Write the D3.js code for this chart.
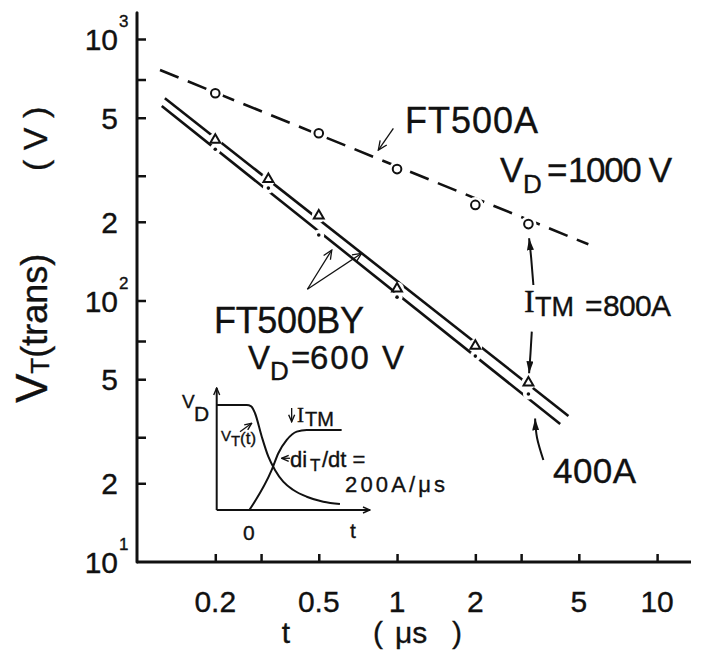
<!DOCTYPE html>
<html>
<head>
<meta charset="utf-8">
<script src="https://cdn.jsdelivr.net/npm/d3@7"></script>
<style>
  body { margin: 0; background: #fff; }
  svg { display: block; }
  text { font-family: "Liberation Sans", Arial, sans-serif; fill: #111; stroke: #111; stroke-width: 0.35px; }
  text.serif { font-family: "Liberation Serif", "Times New Roman", serif; }
</style>
</head>
<body>
<svg id="chart" width="701" height="665"></svg>
<script>
// Transient on-state voltage V_T(trans) after turn-on, log-log

// axis ticks
const xTicks = [0.2, 0.3, 0.5, 1, 2, 3, 5, 10];
const xTickLabels = ["0.2", "", "0.5", "1", "2", "", "5", "10"];
const yTicks = [1000, 700, 500, 300, 200, 100, 70, 50, 30, 20, 10];
const yTickLabels = [["10", "3"], null, ["5"], null, ["2"], ["10", "2"], null, ["5"], null, ["2"], ["10", "1"]];

// FT500A, VD = 1000 V, ITM = 800 A (open circles)
const tA = [0.2, 0.5, 1, 2, 3.2];
const vA = [620, 436, 318, 232, 196];
// FT500BY, VD = 600 V, ITM = 800 A (open triangles)
const tBY = [0.2, 0.32, 0.5, 1, 2, 3.2];
const vBY800 = [411, 291, 211, 111, 67, 48.5];
// FT500BY, VD = 600 V, ITM = 400 A (dots)
const vBY400 = [379, 269, 178, 103, 61.3, 43.9];

// straight-line fits, [t, V] end points
const fitA = [[0.1226, 761], [5.44, 164]];
const fit800 = [[0.128, 593], [4.56, 36.2]];
const fit400 = [[0.1245, 554], [4.24, 33.7]];

// annotation arrows, [t, V]
const arrowFT500A = [[0.968, 455], [0.847, 376]];
const arrowBY1 = [[0.452, 110.4], [0.561, 156]];
const arrowBY2 = [[0.452, 110.4], [0.731, 151.5]];
const arrowItmUp = [[3.344, 114.6], [3.28, 145], [3.219, 173]];
const arrowItmDown = [[3.297, 76], [3.26, 63], [3.219, 52.7]];
const arrow400 = [[3.653, 24.55], [3.455, 29.8], [3.395, 35.4]];

// inset sketch of the turn-on waveforms (normalised units)
const insetVT = [[0, 0.861], [0.196, 0.861], [0.225, 0.85], [0.25, 0.793], [0.294, 0.601],
  [0.337, 0.437], [0.38, 0.328], [0.434, 0.232], [0.5, 0.164], [0.587, 0.109],
  [0.695, 0.068], [0.804, 0.049]];
const insetIT = [[0.213, 0], [0.359, 0.328], [0.402, 0.465], [0.457, 0.574],
  [0.522, 0.642], [0.587, 0.656], [0.815, 0.656]];
const insetArrowVT = [[0.152, 0.642], [0.228, 0.711]];
const insetArrowITM = [[0.489, 0.836], [0.489, 0.724]];
const insetArrowDi = [[0.478, 0.424], [0.424, 0.424]];

const ink = "#111";
const svg = d3.select("#chart");

const x = d3.scaleLog().domain([0.1, 13.5]).range([137, 691]);
const y = d3.scaleLog().domain([10, 1000]).range([562, 39]);
const yTop = 1260;

const defs = svg.append("defs");
defs.append("marker").attr("id", "headSolid")
  .attr("viewBox", "0 0 12 7").attr("refX", 12).attr("refY", 3.5)
  .attr("markerWidth", 12).attr("markerHeight", 7)
  .attr("markerUnits", "userSpaceOnUse").attr("orient", "auto")
  .append("path").attr("d", "M0,0 L12,3.5 L0,7 Z").attr("fill", ink);
defs.append("marker").attr("id", "headOpen")
  .attr("viewBox", "-1 -1 11 10").attr("refX", 9).attr("refY", 4)
  .attr("markerWidth", 11).attr("markerHeight", 10)
  .attr("markerUnits", "userSpaceOnUse").attr("orient", "auto")
  .append("path").attr("d", "M0,0 L9,4 L0,8").attr("fill", "none")
  .attr("stroke", ink).attr("stroke-width", 1.3);
defs.append("marker").attr("id", "headSmall")
  .attr("viewBox", "-1 -1 9 8").attr("refX", 7).attr("refY", 3)
  .attr("markerWidth", 9).attr("markerHeight", 8)
  .attr("markerUnits", "userSpaceOnUse").attr("orient", "auto")
  .append("path").attr("d", "M0,0 L7,3 L0,6").attr("fill", "none")
  .attr("stroke", ink).attr("stroke-width", 1.4);

// ---------- axes ----------
svg.append("line")
  .attr("x1", x(0.1)).attr("x2", x(0.1))
  .attr("y1", y(yTop)).attr("y2", y(10))
  .attr("stroke", ink).attr("stroke-width", 3).attr("stroke-linecap", "round");
svg.append("line")
  .attr("x1", x(0.1)).attr("x2", x(13.5))
  .attr("y1", y(10)).attr("y2", y(10))
  .attr("stroke", ink).attr("stroke-width", 3);

const yAxis = svg.append("g")
  .attr("transform", `translate(${x(0.1)},0)`)
  .call(d3.axisRight(y).tickValues(yTicks.filter(v => v !== 10)).tickSize(9).tickFormat(""));
yAxis.select(".domain").remove();
yAxis.selectAll(".tick line").attr("stroke", ink).attr("stroke-width", 2.5);

const xAxis = svg.append("g")
  .attr("transform", `translate(0,${y(10)})`)
  .call(d3.axisTop(x).tickValues(xTicks).tickSize(8).tickFormat(""));
xAxis.select(".domain").remove();
xAxis.selectAll(".tick line").attr("stroke", ink).attr("stroke-width", 2.5);

// y tick labels (powers of ten with superscripts)
yTicks.forEach((v, i) => {
  const lab = yTickLabels[i];
  if (!lab) return;
  svg.append("text")
    .attr("x", 118).attr("y", y(v) + 11)
    .attr("text-anchor", "end").attr("font-size", 30)
    .text(lab[0]);
  if (lab[1]) {
    svg.append("text")
      .attr("x", 119).attr("y", y(v) - 12)
      .attr("font-size", 17)
      .text(lab[1]);
  }
});

// x tick labels
xTicks.forEach((v, i) => {
  if (!xTickLabels[i]) return;
  svg.append("text")
    .attr("x", x(v)).attr("y", 612)
    .attr("text-anchor", "middle").attr("font-size", 30)
    .text(xTickLabels[i]);
});

// axis titles
svg.append("text").attr("x", 286).attr("y", 643).attr("text-anchor", "middle")
  .attr("font-size", 30).text("t");
const xt = svg.append("text").attr("y", 643).attr("font-size", 30);
xt.append("tspan").attr("x", 373).text("(");
xt.append("tspan").attr("x", 395).text("μs");
xt.append("tspan").attr("x", 452).text(")");

const yt = svg.append("text")
  .attr("transform", "translate(47,403) rotate(-90)")
  .attr("font-size", 36);
yt.append("tspan").attr("font-size", 44).text("V");
yt.append("tspan").attr("font-size", 26).attr("dy", 2).text("T");
yt.append("tspan").attr("dy", -2).text("(trans)");
svg.append("text")
  .attr("transform", "translate(47,171) rotate(-90)")
  .attr("font-size", 34)
  .attr("xml:space", "preserve")
  .text("( V )");

// ---------- data lines ----------
const lineGen = d3.line().x(d => x(d[0])).y(d => y(d[1]));

function gapMask(id, pts, r) {
  const m = defs.append("mask").attr("id", id).attr("maskUnits", "userSpaceOnUse")
    .attr("x", 0).attr("y", 0).attr("width", 701).attr("height", 665);
  m.append("rect").attr("width", 701).attr("height", 665).attr("fill", "#fff");
  m.selectAll("circle").data(pts).join("circle")
    .attr("cx", d => x(d[0])).attr("cy", d => y(d[1])).attr("r", r).attr("fill", "#000");
}
gapMask("gapA", d3.zip(tA, vA), 8);
gapMask("gap800", d3.zip(tBY, vBY800), 7);
gapMask("gap400", d3.zip(tBY, vBY400), 5.5);

svg.append("path").attr("d", lineGen(fitA))
  .attr("fill", "none").attr("stroke", ink).attr("stroke-width", 2.6)
  .attr("stroke-dasharray", "20,10").attr("mask", "url(#gapA)");
svg.append("path").attr("d", lineGen(fit800))
  .attr("fill", "none").attr("stroke", ink).attr("stroke-width", 2.6)
  .attr("mask", "url(#gap800)");
svg.append("path").attr("d", lineGen(fit400))
  .attr("fill", "none").attr("stroke", ink).attr("stroke-width", 2.6)
  .attr("mask", "url(#gap400)");

// markers
svg.selectAll("circle.ptA").data(d3.zip(tA, vA)).join("circle")
  .attr("class", "ptA")
  .attr("cx", d => x(d[0])).attr("cy", d => y(d[1])).attr("r", 4.3)
  .attr("fill", "#fff").attr("stroke", ink).attr("stroke-width", 2);
const tri = d3.symbol().type(d3.symbolTriangle).size(42);
svg.selectAll("path.pt800").data(d3.zip(tBY, vBY800)).join("path")
  .attr("class", "pt800")
  .attr("transform", d => `translate(${x(d[0])},${y(d[1])})`)
  .attr("d", tri)
  .attr("fill", "#fff").attr("stroke", ink).attr("stroke-width", 2);
svg.selectAll("circle.pt400").data(d3.zip(tBY, vBY400)).join("circle")
  .attr("class", "pt400")
  .attr("cx", d => x(d[0])).attr("cy", d => y(d[1])).attr("r", 1.8)
  .attr("fill", ink);

// ---------- annotations ----------
const curvy = d3.line().x(d => x(d[0])).y(d => y(d[1])).curve(d3.curveNatural);
function arrow(pts, head, w) {
  svg.append("path").attr("d", curvy(pts))
    .attr("fill", "none").attr("stroke", ink).attr("stroke-width", w)
    .attr("marker-end", `url(#${head})`);
}
arrow(arrowFT500A, "headOpen", 1.3);
arrow(arrowBY1, "headOpen", 1.3);
arrow(arrowBY2, "headOpen", 1.3);
arrow(arrowItmUp, "headSolid", 2);
arrow(arrowItmDown, "headSolid", 2);
arrow(arrow400, "headSolid", 2);

function label(xp, yp, size, str, len, cls) {
  const t = svg.append("text").attr("x", xp).attr("y", yp).attr("font-size", size).text(str);
  if (len) t.attr("textLength", len).attr("lengthAdjust", "spacing");
  if (cls) t.attr("class", cls);
  return t;
}

label(405, 133, 36, "FT500A", 133);

// V_D = 1000 V
label(500, 182, 35, "V");
label(523, 193, 26, "D");
label(547, 182, 35, "=");
label(568, 182, 35, "1000 V", 104);

// I_TM = 800 A
label(524, 312, 32, "I", null, "serif");
label(535, 316, 27, "TM");
label(585, 316, 30, "=");
label(603, 316, 30, "800A", 68);

// FT500BY, V_D = 600 V
label(214, 333, 36, "FT500BY", 150);
label(248, 369, 33, "V");
label(270, 380, 26, "D");
label(291, 369, 33, "=");
label(310, 369, 33, "600 V", 94);

label(553, 483, 35, "400A", 83);

// ---------- inset ----------
const ix = d3.scaleLinear().domain([0, 1]).range([216.7, 370]);
const iy = d3.scaleLinear().domain([0, 1]).range([510, 388]);
const iline = d3.line().x(d => ix(d[0])).y(d => iy(d[1]));
const icurve = d3.line().x(d => ix(d[0])).y(d => iy(d[1])).curve(d3.curveMonotoneX);

svg.append("path").attr("d", iline([[0, 0], [0, 1]]))
  .attr("stroke", ink).attr("stroke-width", 2).attr("fill", "none")
  .attr("marker-end", "url(#headSmall)");
svg.append("path").attr("d", iline([[0, 0], [1, 0]]))
  .attr("stroke", ink).attr("stroke-width", 2).attr("fill", "none")
  .attr("marker-end", "url(#headSmall)");
svg.append("path").attr("d", icurve(insetVT))
  .attr("stroke", ink).attr("stroke-width", 2).attr("fill", "none");
svg.append("path").attr("d", icurve(insetIT))
  .attr("stroke", ink).attr("stroke-width", 2).attr("fill", "none");

[insetArrowVT, insetArrowITM, insetArrowDi].forEach(a => {
  svg.append("path").attr("d", iline(a))
    .attr("stroke", ink).attr("stroke-width", 1.3).attr("fill", "none")
    .attr("marker-end", "url(#headSmall)");
});

label(182, 408, 19, "V");
label(194, 421, 21, "D");
label(221, 441, 15, "V");
label(231, 446, 15, "T");
label(240, 444, 17, "(t)");
label(297, 422, 21, "I", null, "serif");
label(305, 426, 20, "TM");
label(290, 467, 22, "di");
label(310, 471, 17, "T");
label(322, 467, 22, "/dt =");
label(345, 492, 22, "200A/μs", 100);
svg.append("text").attr("x", ix(0.21)).attr("y", 540).attr("text-anchor", "middle")
  .attr("font-size", 21).text("0");
svg.append("text").attr("x", 353).attr("y", 538).attr("text-anchor", "middle")
  .attr("font-size", 21).text("t");
</script>
</body>
</html>
